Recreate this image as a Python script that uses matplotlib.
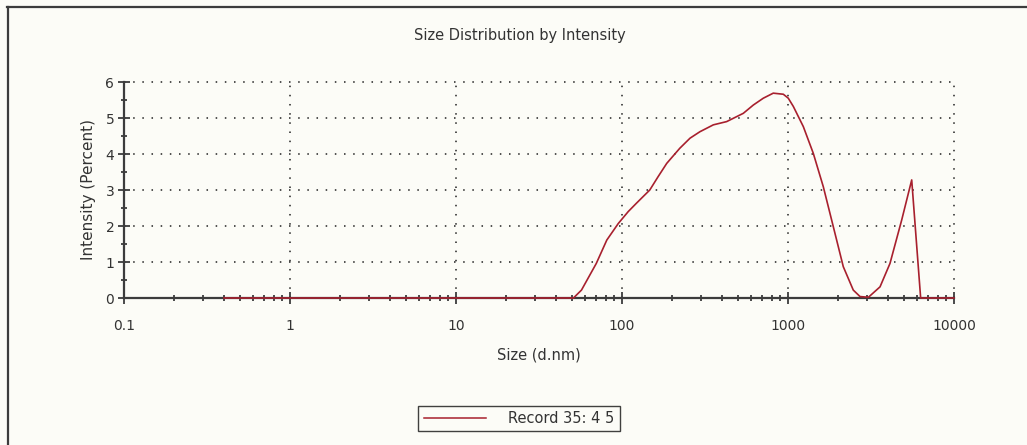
import numpy as np
import matplotlib
matplotlib.use('Agg')
import matplotlib.pyplot as plt
from matplotlib.lines import Line2D
from matplotlib.ticker import LogLocator, FixedLocator, NullFormatter, FixedFormatter

# --- data ---
sizes = [0.4, 51, 57, 70, 81, 95, 109, 122, 147, 165, 186, 223, 257, 295,
         355, 427, 538, 618, 710, 815, 937, 1004, 1077, 1237, 1420, 1632,
         1875, 2153, 2473, 2716, 3050, 3584, 4115, 4843, 5562, 6297, 10000]
intensity = [0, 0, 0.22, 0.96, 1.61, 2.07, 2.40, 2.63, 3.00, 3.37, 3.74,
             4.16, 4.44, 4.62, 4.81, 4.90, 5.13, 5.36, 5.55, 5.69, 5.66,
             5.55, 5.32, 4.76, 4.02, 3.09, 1.98, 0.87, 0.22, 0.04, 0.02,
             0.31, 0.96, 2.17, 3.28, 0, 0]

x_ticks = [0.1, 1, 10, 100, 1000, 10000]
x_tick_labels = ['0.1', '1', '10', '100', '1000', '10000']
y_ticks = [0, 1, 2, 3, 4, 5, 6]
record_label = 'Record 35: 4 5'

line_color = '#a8202e'
axis_color = '#3c3c3c'
bg_color = '#fcfcf7'

plt.rcParams['font.family'] = ['DejaVu Sans']

fig = plt.figure(figsize=(10.27, 4.45), dpi=100, facecolor=bg_color)
ax = fig.add_axes([124 / 1027, 1 - 298 / 445, 830 / 1027, 216 / 445])
ax.set_facecolor(bg_color)

ax.plot(sizes, intensity, color=line_color, linewidth=1.2, zorder=4, clip_on=False)

ax.set_xscale('log')
ax.set_xlim(0.1, 10000)
ax.set_ylim(0, 6)

# ticks
ax.xaxis.set_major_locator(FixedLocator(x_ticks))
ax.xaxis.set_major_formatter(FixedFormatter(x_tick_labels))
ax.xaxis.set_minor_locator(LogLocator(base=10, subs=np.arange(2, 10), numticks=20))
ax.xaxis.set_minor_formatter(NullFormatter())
ax.yaxis.set_major_locator(FixedLocator(y_ticks))
ax.yaxis.set_minor_locator(FixedLocator(np.arange(0.5, 6, 1.0)))

ax.tick_params(axis='both', which='major', direction='inout', length=8,
               width=1.3, color=axis_color, labelsize=10, labelcolor='#333333')
ax.tick_params(axis='both', which='minor', direction='inout', length=5,
               width=1.3, color=axis_color)
ax.tick_params(axis='x', which='major', pad=11)
ax.tick_params(axis='y', which='major', pad=3)

# spines
for side in ['top', 'right']:
    ax.spines[side].set_visible(False)
for side in ['left', 'bottom']:
    ax.spines[side].set_color(axis_color)
    ax.spines[side].set_linewidth(1.6)

# dotted grid
ax.grid(True, which='major', color='#222222', linestyle=(0, (1, 5)), linewidth=1.1)
for gl in ax.get_xgridlines() + ax.get_ygridlines():
    gl.set_clip_on(False)

# labels
ax.set_xlabel('Size (d.nm)', fontsize=10.5, color='#333333')
ax.xaxis.set_label_coords(0.5, (298 - 354.5) / 216)
ax.xaxis.label.set_va('center')
ax.set_ylabel('Intensity (Percent)', fontsize=11, color='#333333')
ax.yaxis.set_label_coords((88 - 124) / 830, 0.5)
ax.yaxis.label.set_va('center')

fig.text(520 / 1027, 1 - 35.5 / 445, 'Size Distribution by Intensity',
         ha='center', va='center', fontsize=10.5, color='#333333')

# legend
handles = [Line2D([0], [0], color=line_color, linewidth=1.1)]
leg = fig.legend(handles, [record_label], loc='center',
                 bbox_to_anchor=(519 / 1027, 1 - 418.5 / 445),
                 fontsize=10.5, frameon=True, fancybox=False,
                 handlelength=4.3, handletextpad=1.5, borderpad=0.35,
                 borderaxespad=0)
leg.get_frame().set_edgecolor('#111111')
leg.get_frame().set_linewidth(1.0)
leg.get_frame().set_facecolor(bg_color)
for t in leg.get_texts():
    t.set_color('#333333')

# outer panel border (top and left)
fig.add_artist(Line2D([7 / 1027, 1], [1 - 7 / 445, 1 - 7 / 445],
                      color=axis_color, linewidth=1.6, transform=fig.transFigure))
fig.add_artist(Line2D([7.5 / 1027, 7.5 / 1027], [0, 1 - 7 / 445],
                      color=axis_color, linewidth=1.6, transform=fig.transFigure))

fig.savefig('out.png', dpi=100, facecolor=bg_color)
